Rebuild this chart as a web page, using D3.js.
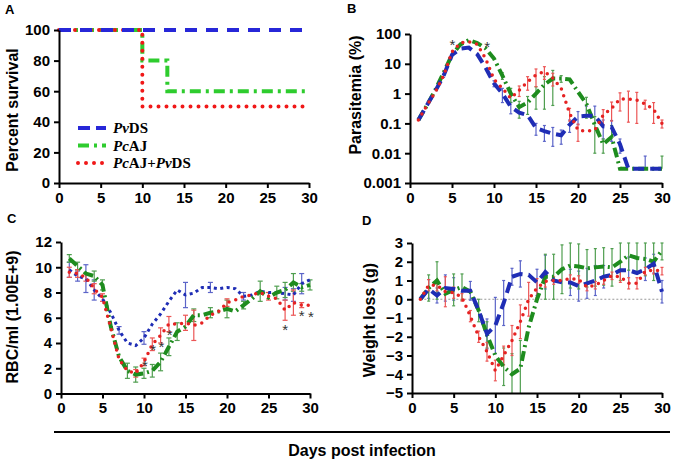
<!DOCTYPE html>
<html>
<head>
<meta charset="utf-8">
<script src="https://cdn.jsdelivr.net/npm/d3@7"></script>
<style>
  body { margin: 0; background: #fff; }
  svg { display: block; font-family: "Liberation Sans", Arial, sans-serif; }
  .axis .tick text { font-size: 15px; font-weight: bold; fill: #000; }
  .axis .domain, .axis .tick line { stroke: #000; stroke-width: 2; }
  .ytitle { font-size: 16px; font-weight: bold; text-anchor: middle; }
  .letter { font-size: 13px; font-weight: bold; }
</style>
</head>
<body>
<svg id="fig" width="673" height="462"></svg>
<script>
// ---- data ----
const days = [1, 2, 3, 4, 5, 6, 7, 8, 9, 10, 11, 12, 13, 14, 15, 16, 17, 18, 19, 20, 21, 22, 23, 24, 25, 26, 27, 28, 29, 30];
const dayTicks = [0, 5, 10, 15, 20, 25, 30];

// A: survival (step curves)
const survPvDSDays = [0, 30];
const survPvDS = [100, 100];
const survPcAJDays = [0, 10, 13, 30];
const survPcAJ = [100, 80, 60, 60];
const survMixDays = [0, 10, 30];
const survMix = [100, 50, 50];
const survTicks = [0, 20, 40, 60, 80, 100];

// B: parasitemia (%)
const paraPvDS = [0.13, 0.4, 1.2, 4, 20, 32, 35, 21, 7.4, 2.2, 1, 0.36, 0.23, 0.19, 0.07, 0.055, 0.045, 0.04, 0.09, 0.17, 0.18, 0.18, 0.08, 0.075, 0.02, 0.003, 0.003, 0.003, 0.003, 0.003];
const paraPvDSErr = [0, 0, 0, 0.5, 0, 0, 0, 0, 0, 0.5, 0.5, 0.15, 0, 0, 0.03, 0.03, 0.028, 0.02, 0.04, 0.08, 0.2, 0.2, 0.05, 0.05, 0.01, 0, 0, 0.005, 0, 0];
const paraPcAJ = [0.13, 0.4, 1.3, 5, 20, 45, 62, 50, 33, 15, 4, 1, 0.35, 0.5, 1, 2, 3.2, 3.2, 3, 1.15, 0.45, 0.09, 0.02, 0.035, 0.003, 0.003, 0.003, 0.003, 0.003, 0.003];
const paraPcAJErr = [0, 0, 0, 0, 0, 0, 0, 0, 0, 0, 1, 0.5, 0.2, 0.3, 0.7, 1.7, 2.8, 0.8, 0, 0, 0.3, 0.08, 0.01, 0.05, 0, 0, 0, 0, 0, 0.005];
const paraMix = [0.13, 0.4, 1.1, 4, 25, 50, 55, 45, 15, 3, 1.5, 0.7, 1.3, 2.5, 4.2, 5.5, 3.3, 1.5, 0.22, 0.06, 0.055, 0.06, 0.19, 0.32, 0.66, 0.66, 0.6, 0.45, 0.3, 0.1];
const paraMixErr = [0, 0, 0, 0, 0, 0, 0, 0, 0, 0, 0, 0, 0.5, 1.2, 2.5, 2.5, 1.5, 0, 0.1, 0.035, 0, 0, 0.1, 0.2, 0.4, 0.55, 0.5, 0.15, 0.2, 0.03];
const paraTicks = [0.001, 0.01, 0.1, 1, 10, 100];
const paraTickLabels = ["0.001", "0.01", "0.1", "1", "10", "100"];
const paraStars = [[5.05, 55], [9.2, 45]];

// C: RBC/ml (1.00E+9)
const rbcPvDS = [9.8, 9.3, 9.1, 8.2, 7.5, 6.4, 5.0, 4.0, 3.8, 4.4, 5.5, 6.3, 7.3, 8.2, 7.8, 7.95, 8.4, 8.4, 8.3, 8.4, 8.3, 7.7, 7.8, 8.1, 8.0, 8.0, 7.9, 7.8, 8.7, 9.0];
const rbcPvDSErr = [0.6, 0.4, 1.1, 0.8, 0, 0, 0.3, 0, 0, 0.5, 0, 0, 0, 0, 1.0, 0, 0, 0.4, 0, 0, 0, 0.3, 0, 0, 0, 0, 0.5, 0.5, 0.8, 0];
const rbcPcAJ = [10.7, 10.1, 9.5, 9.3, 8.6, 5.3, 2.9, 1.8, 1.5, 1.6, 1.8, 2.5, 3.7, 4.9, 5.3, 6.2, 6.2, 6.4, 6.5, 6.7, 6.5, 7.0, 7.5, 8.1, 7.6, 8.0, 8.2, 8.8, 8.4, 8.6];
const rbcPcAJErr = [0.3, 0.3, 0, 0.4, 0.4, 0, 0, 0.6, 0.6, 0.4, 0.5, 0.7, 0.7, 0.7, 0, 0.5, 0, 0.4, 0, 0.7, 0, 0.3, 0, 0.8, 0, 0.5, 0.6, 0.7, 0.3, 0.4];
const rbcMix = [9.6, 9.5, 9.2, 8.3, 7.6, 5.2, 2.7, 1.8, 1.6, 2.5, 3.9, 4.6, 5.5, 5.5, 5.6, 5.4, 5.6, 6.2, 6.5, 7.2, 7.4, 7.7, 7.8, 8.0, 7.7, 7.5, 6.6, 7.2, 7.0, 7.0];
const rbcMixErr = [0.4, 0.3, 0.3, 0.4, 0.3, 0, 0, 0, 0.3, 0.3, 0.5, 0.6, 0.6, 0, 0.6, 1.2, 0, 0, 0, 0.3, 0, 0, 0, 0, 0.3, 0, 0.8, 1.0, 0.2, 0];
const rbcTicks = [0, 2, 4, 6, 8, 10, 12];
const rbcStars = [[10.1, 2.4], [11.1, 3.65], [12.1, 3.9], [13.1, 4.9], [27, 5.3], [29, 6.35], [30.1, 6.3]];

// D: weight loss (g)
const wtPvDS = [0, 0.55, 0.2, 0.6, 0.55, 0.45, 0.45, -0.6, -1.85, -1.4, -0.2, 1.2, 1.35, 1.3, 0.9, 1.45, 1.0, 0.9, 0.9, 0.7, 0.85, 1.0, 1.2, 1.3, 1.55, 1.55, 1.4, 1.6, 1.9, 0.4];
const wtPvDSErr = [0, 0.5, 0.4, 0.7, 0.6, 0, 0.5, 0, 0.8, 1.5, 1.2, 0.45, 0.7, 0, 0.7, 0.9, 0, 0, 0.7, 0.8, 0.8, 0.8, 0.6, 0, 0, 0.7, 0, 0.6, 0.5, 0.6];
const wtPcAJ = [0, 0.6, 1.0, 0.3, 0.5, 0.65, 0.4, -0.6, -1.9, -3.0, -3.6, -4.0, -3.7, -1.5, 0.0, 1.2, 1.2, 1.6, 1.8, 1.75, 1.65, 1.7, 1.75, 1.7, 2.0, 2.35, 2.2, 2.15, 2.0, 2.6];
const wtPcAJErr = [0, 0.7, 1.0, 0, 0.85, 0.7, 0, 0.6, 0.7, 0, 1.0, 1.1, 1.5, 0, 0, 1.2, 1.2, 1.3, 1.2, 1.2, 1.0, 1.0, 1.0, 1.0, 1.0, 0.8, 0.8, 0.9, 1.0, 0.5];
const wtMix = [0, 0.75, 0.75, 0.4, 0.35, 0.1, -0.9, -2.0, -2.8, -3.8, -3.0, -2.2, -1.2, 0.0, 0.6, 0.95, 1.0, 1.0, 1.1, 1.05, 0.65, 0.75, 1.0, 1.25, 1.2, 0.85, 0.85, 1.5, 1.55, 1.5];
const wtMixErr = [0, 0.3, 0.3, 0.8, 0.3, 0.2, 0.3, 0.3, 0.5, 0.55, 0.5, 0.8, 0.9, 0.9, 0.5, 0.3, 0.2, 0, 0.2, 0.2, 0.2, 0.2, 0.2, 0.2, 0.3, 0.3, 0.3, 0.2, 0.2, 0.2];
const wtTicks = [-5, -4, -3, -2, -1, 0, 1, 2, 3];

const legendNames = [["Pv", "DS"], ["Pc", "AJ"], ["Pc", "AJ+", "Pv", "DS"]];

// ---- styles ----
const blue = "#1f2db5", green = "#1e8c1e", red = "#e52222";
const styleBlue = { color: blue, width: 4, dash: "11,6" };
const styleGreen = { color: green, width: 4, dash: "10,4,2,4" };
const styleRed = { color: red, width: 3.5, dash: "0,7", cap: "round" };
const errColor = { [blue]: "#5b64c8", [green]: "#4f9e4f", [red]: "#ec5656" };

const svg = d3.select("#fig");

function axes(x, y, yTicks, yFormat) {
  svg.append("g")
    .attr("class", "axis")
    .attr("transform", "translate(0," + y.range()[0] + ")")
    .call(d3.axisBottom(x).tickValues(dayTicks).tickSize(5).tickSizeOuter(0).tickPadding(4));
  svg.append("g")
    .attr("class", "axis")
    .attr("transform", "translate(" + x.range()[0] + ",0)")
    .call(d3.axisLeft(y).tickValues(yTicks).tickFormat(yFormat).tickSize(5).tickSizeOuter(0).tickPadding(4));
}

function series(x, y, xs, ys, st, curve) {
  const pts = xs.map((d, i) => [d, ys[i]]);
  svg.append("path")
    .datum(pts)
    .attr("d", d3.line().x((d) => x(d[0])).y((d) => y(d[1])).curve(curve || d3.curveLinear))
    .attr("fill", "none")
    .attr("stroke", st.color)
    .attr("stroke-width", st.width)
    .attr("stroke-dasharray", st.dash)
    .attr("stroke-linecap", st.cap || "butt");
}

// mean +/- SEM; on the log axis a lower end <= 0 is simply not drawn
function errorBars(x, y, ys, errs, color, cap, isLog) {
  const [lo, hi] = y.domain();
  const g = svg.append("g").attr("stroke", errColor[color]).attr("stroke-width", 1.2);
  days.forEach((d, i) => {
    if (!errs[i]) return;
    let low = ys[i] - errs[i];
    let lowCap = true;
    if (isLog && low <= 0) { low = ys[i]; lowCap = false; }
    if (low < lo) { low = lo; lowCap = false; }
    const y1 = y(low);
    const y2 = y(Math.min(ys[i] + errs[i], hi));
    const cx = x(d);
    g.append("line").attr("x1", cx).attr("x2", cx).attr("y1", y1).attr("y2", y2);
    g.append("line").attr("x1", cx - cap).attr("x2", cx + cap).attr("y1", y2).attr("y2", y2);
    if (lowCap)
      g.append("line").attr("x1", cx - cap).attr("x2", cx + cap).attr("y1", y1).attr("y2", y1);
  });
}

function stars(x, y, pts) {
  svg.selectAll(null)
    .data(pts)
    .enter()
    .append("text")
    .attr("x", (d) => x(d[0]))
    .attr("y", (d) => y(d[1]) + 8)
    .attr("text-anchor", "middle")
    .style("font-size", "15px")
    .attr("fill", "#333")
    .text("*");
}

function yTitle(cx, cy, label) {
  svg.append("text")
    .attr("class", "ytitle")
    .attr("transform", "translate(" + cx + "," + cy + ") rotate(-90)")
    .text(label);
}

function letter(px, py, t) {
  svg.append("text").attr("class", "letter").attr("x", px).attr("y", py).text(t);
}

// ---- A ----
function drawA() {
  const x = d3.scaleLinear().domain([0, 30]).range([59, 309]);
  const y = d3.scaleLinear().domain([0, 100]).range([183, 30]);
  series(x, y, survPcAJDays, survPcAJ, { color: "#2ecc2e", width: 4, dash: "11,5,3,5" }, d3.curveStepAfter);
  series(x, y, survMixDays, survMix, { color: "#f01818", width: 4, dash: "0,8", cap: "round" }, d3.curveStepAfter);
  series(x, y, survPvDSDays, survPvDS, { color: "#2727d8", width: 4, dash: "12,9" }, d3.curveStepAfter);
  axes(x, y, survTicks, d3.format("d"));
  yTitle(18, 110, "Percent survival");
  letter(5, 14, "A");

  const legStyles = [
    { color: "#2727d8", width: 4, dash: "12,6" },
    { color: "#2ecc2e", width: 4, dash: "11,5,3,5" },
    { color: "#f01818", width: 4, dash: "0,8", cap: "round" }
  ];
  legendNames.forEach((parts, i) => {
    const ly = 128 + i * 17.5;
    const st = legStyles[i];
    svg.append("line")
      .attr("x1", 78).attr("x2", 106).attr("y1", ly).attr("y2", ly)
      .attr("stroke", st.color).attr("stroke-width", st.width)
      .attr("stroke-dasharray", st.dash).attr("stroke-linecap", st.cap || "butt");
    const t = svg.append("text")
      .attr("x", 113).attr("y", ly + 5)
      .style("font-family", "'Liberation Serif', 'Times New Roman', serif")
      .style("font-size", "15px").style("font-weight", "bold");
    parts.forEach((p, j) => {
      t.append("tspan").style("font-style", j % 2 === 0 ? "italic" : "normal").text(p);
    });
  });
}

// ---- B ----
function drawB() {
  const x = d3.scaleLinear().domain([0, 30]).range([410, 662]);
  const y = d3.scaleLog().domain([0.001, 100]).range([183, 34]);
  errorBars(x, y, paraPvDS, paraPvDSErr, blue, 1.5, true);
  errorBars(x, y, paraPcAJ, paraPcAJErr, green, 1.5, true);
  errorBars(x, y, paraMix, paraMixErr, red, 1.5, true);
  series(x, y, days, paraPcAJ, styleGreen);
  series(x, y, days, paraPvDS, styleBlue);
  series(x, y, days, paraMix, styleRed);
  axes(x, y, paraTicks, (d, i) => paraTickLabels[i]);
  stars(x, y, paraStars);
  yTitle(361, 95, "Parasitemia (%)");
  letter(347, 13, "B");
}

// ---- C ----
function drawC() {
  const x = d3.scaleLinear().domain([0, 30]).range([61, 310]);
  const y = d3.scaleLinear().domain([0, 12]).range([393.5, 242]);
  errorBars(x, y, rbcPvDS, rbcPvDSErr, blue, 2.5);
  errorBars(x, y, rbcPcAJ, rbcPcAJErr, green, 2.5);
  errorBars(x, y, rbcMix, rbcMixErr, red, 2.5);
  series(x, y, days, rbcPvDS, { color: blue, width: 3, dash: "3,3.5" });
  series(x, y, days, rbcPcAJ, styleGreen);
  series(x, y, days, rbcMix, styleRed);
  axes(x, y, rbcTicks, d3.format("d"));
  stars(x, y, rbcStars);
  yTitle(18, 317, "RBC/ml (1.00E+9)");
  letter(7, 223, "C");
}

// ---- D ----
function drawD() {
  const x = d3.scaleLinear().domain([0, 30]).range([412, 662]);
  const y = d3.scaleLinear().domain([-5, 3]).range([393, 243]);
  svg.append("line")
    .attr("x1", x(1)).attr("x2", x(30)).attr("y1", y(0)).attr("y2", y(0))
    .attr("stroke", "#999").attr("stroke-width", 1.2).attr("stroke-dasharray", "2,2");
  errorBars(x, y, wtPvDS, wtPvDSErr, blue, 1.5);
  errorBars(x, y, wtPcAJ, wtPcAJErr, green, 1.5);
  errorBars(x, y, wtMix, wtMixErr, red, 1.5);
  series(x, y, days, wtPcAJ, styleGreen);
  series(x, y, days, wtPvDS, styleBlue);
  series(x, y, days, wtMix, styleRed);
  axes(x, y, wtTicks, d3.format("d"));
  yTitle(375, 320, "Weight loss (g)");
  letter(362, 225, "D");
}

drawA();
drawB();
drawC();
drawD();

// shared x title
svg.append("line")
  .attr("x1", 54).attr("x2", 670).attr("y1", 432).attr("y2", 432)
  .attr("stroke", "#000").attr("stroke-width", 2);
svg.append("text")
  .attr("x", 362).attr("y", 456)
  .attr("text-anchor", "middle")
  .style("font-size", "16px").style("font-weight", "bold")
  .text("Days post infection");
</script>
</body>
</html>
